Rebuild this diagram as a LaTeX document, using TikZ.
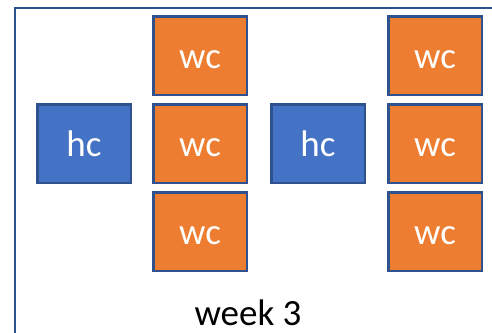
\documentclass[tikz,border=0pt]{standalone}
\usepackage{fontspec}
\setmainfont{Carlito}
\usetikzlibrary{positioning}
\definecolor{hcblue}{HTML}{4472C4}
\definecolor{wcorange}{HTML}{ED7D31}
\definecolor{edgeblue}{HTML}{2F528F}
\tikzset{
  cell/.style = {draw=edgeblue, line width=2.5pt, minimum width=93.5pt, minimum height=78.5pt,
    inner sep=0pt, text=white, font=\fontsize{37}{40}\selectfont, text height=30pt, text depth=4pt},
  hcbox/.style = {cell, fill=hcblue},
  wcbox/.style = {cell, fill=wcorange}
}
\begin{document}
\begin{tikzpicture}[x=1pt, y=-1pt]
\useasboundingbox (0,0) rectangle (492,332);
\clip (0,0) rectangle (492,332);
\draw[edgeblue, line width=2pt] (14.5,8) rectangle (520,360);

\node[hcbox] (hc1) at (84,143.5) {hc};
\node[wcbox, right=20pt of hc1] (wc1) {wc};
\node[wcbox, above=7pt of wc1] (wc1top) {wc};
\node[wcbox, below=7pt of wc1] (wc1bot) {wc};

\node[hcbox, right=22pt of wc1] (hc2) {hc};
\node[wcbox, right=21pt of hc2] (wc2) {wc};
\node[wcbox, above=7pt of wc2] (wc2top) {wc};
\node[wcbox, below=7pt of wc2] (wc2bot) {wc};

\node[anchor=base, inner sep=0pt, font=\fontsize{37}{40}\selectfont] (week) at (248,325) {week 3};
\end{tikzpicture}
\end{document}
